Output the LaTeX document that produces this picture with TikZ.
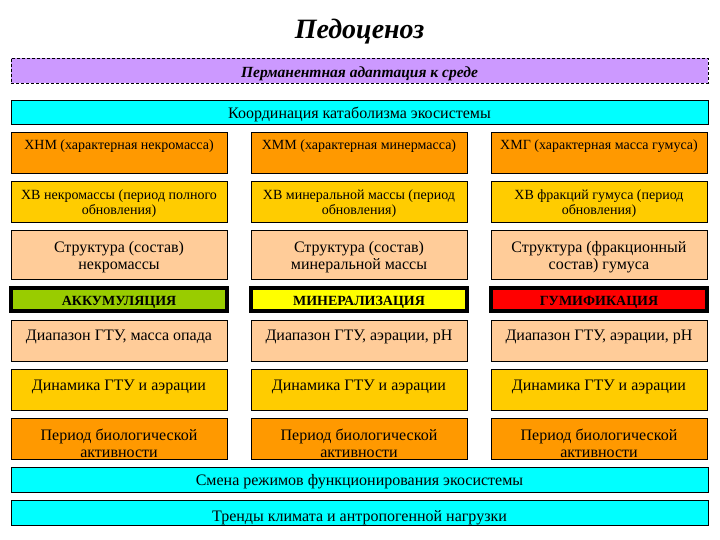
\documentclass[tikz,border=0pt]{standalone}
\usepackage{fontspec}
\setmainfont{Liberation Serif}
\usetikzlibrary{positioning}

\definecolor{lilac}{HTML}{CC99FF}
\definecolor{aqua}{HTML}{00FFFF}
\definecolor{orangebox}{HTML}{FF9900}
\definecolor{goldbox}{HTML}{FFCC00}
\definecolor{peachbox}{HTML}{FFCC99}
\definecolor{greenbox}{HTML}{99CC00}
\definecolor{yellowbox}{HTML}{FFFF00}
\definecolor{redbox}{HTML}{FF0000}

\begin{document}
\begin{tikzpicture}[
    x=1pt, y=-1pt,
    node distance=8pt and 24pt,
    box/.style={draw, line width=0.8pt, inner sep=0pt, outer sep=0pt, align=center, minimum width=216pt},
    wide/.style={box, fill=aqua, minimum width=697pt, font=\fontsize{16}{18}\selectfont},
    small/.style={font=\fontsize{14}{15}\selectfont},
    big/.style={font=\fontsize{16}{17}\selectfont},
    proc/.style={box, line width=4pt, font=\bfseries\fontsize{14}{15}\selectfont},
    vpos/.style 2 args={text height=#1pt, text depth=#2pt}
]
\useasboundingbox (0,0) rectangle (720,540);

\node[font=\bfseries\itshape\fontsize{28}{30}\selectfont] (title) at (359.5,32) {Педоценоз};
\node[box, dashed, dash pattern=on 3pt off 2pt, fill=lilac, minimum width=697pt, vpos={20}{5},
      font=\bfseries\itshape\fontsize{15.5}{17}\selectfont] (adapt) at (359.5,70.5) {Перманентная адаптация к среде};
\node[wide, vpos={19}{5}, below=17pt of adapt] (koord) {Координация катаболизма экосистемы};

\node[box, small, fill=orangebox, vpos={18}{23}, below right=8pt and 0pt of koord.south west] (xnm) {ХНМ (характерная некромасса)};
\node[box, small, fill=orangebox, vpos={18}{23}, right=of xnm] (xmm) {ХММ (характерная минермасса)};
\node[box, small, fill=orangebox, vpos={18}{23}, right=of xmm] (xmg) {ХМГ (характерная масса гумуса)};

\node[box, small, fill=goldbox, vpos={33.5}{7.5}, below=of xnm] (xbn) {ХВ некромассы (период полного\\обновления)};
\node[box, small, fill=goldbox, vpos={33.5}{7.5}, right=of xbn] (xbm) {ХВ минеральной массы (период\\обновления)};
\node[box, small, fill=goldbox, vpos={33.5}{7.5}, right=of xbm] (xbg) {ХВ фракций гумуса (период\\обновления)};

\node[box, big, fill=peachbox, vpos={39}{10}, below=of xbn] (strn) {Структура (состав)\\некромассы};
\node[box, big, fill=peachbox, vpos={39}{10}, right=of strn] (strm) {Структура (состав)\\минеральной массы};
\node[box, big, fill=peachbox, vpos={39}{10}, right=of strm] (strg) {Структура (фракционный\\состав) гумуса};

\node[proc, fill=greenbox, vpos={17.5}{5.5}, below=9pt of strn] (akk) {АККУМУЛЯЦИЯ};
\node[proc, fill=yellowbox, vpos={17.5}{5.5}, right=of akk] (miner) {МИНЕРАЛИЗАЦИЯ};
\node[proc, fill=redbox, vpos={17.5}{5.5}, right=of miner] (gum) {ГУМИФИКАЦИЯ};

\node[box, big, fill=peachbox, vpos={20.5}{20.5}, below=9pt of akk] (dia1) {Диапазон ГТУ, масса опада};
\node[box, big, fill=peachbox, vpos={20.5}{20.5}, right=of dia1] (dia2) {Диапазон ГТУ, аэрации, pH};
\node[box, big, fill=peachbox, vpos={20.5}{20.5}, right=of dia2] (dia3) {Диапазон ГТУ, аэрации, pH};

\node[box, big, fill=goldbox, vpos={21.5}{19.5}, below=of dia1] (din1) {Динамика ГТУ и аэрации};
\node[box, big, fill=goldbox, vpos={21.5}{19.5}, right=of din1] (din2) {Динамика ГТУ и аэрации};
\node[box, big, fill=goldbox, vpos={21.5}{19.5}, right=of din2] (din3) {Динамика ГТУ и аэрации};

\node[box, big, fill=orangebox, vpos={39}{2}, below=of din1] (per1) {Период биологической\\активности};
\node[box, big, fill=orangebox, vpos={39}{2}, right=of per1] (per2) {Период биологической\\активности};
\node[box, big, fill=orangebox, vpos={39}{2}, right=of per2] (per3) {Период биологической\\активности};

\node[wide, vpos={18.5}{6.5}, below right=8pt and 0pt of per1.south west] (smena) {Смена режимов функционирования экосистемы};
\node[wide, vpos={21}{4}, below=of smena] (trend) {Тренды климата и антропогенной нагрузки};
\end{tikzpicture}
\end{document}
